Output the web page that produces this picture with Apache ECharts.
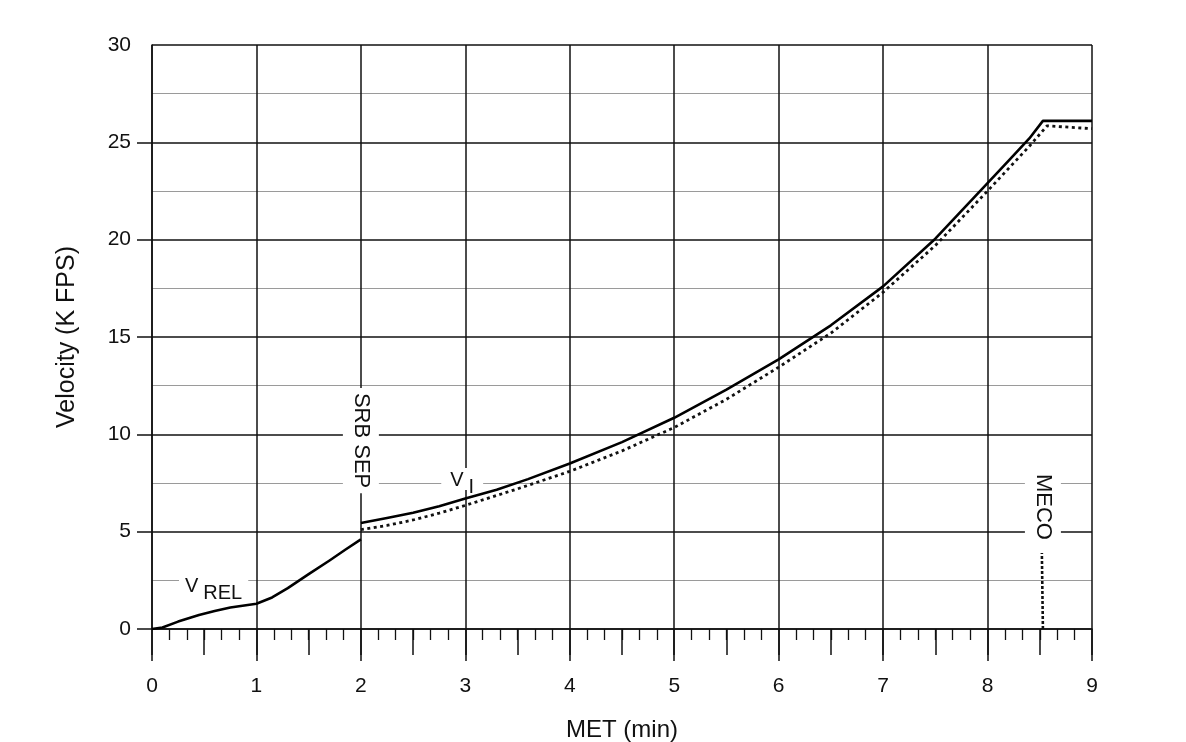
<!DOCTYPE html>
<html lang="en">
<head>
<meta charset="UTF-8">
<title>Velocity vs MET</title>
<script src="https://cdn.jsdelivr.net/npm/echarts@6/dist/echarts.min.js"></script>
<style>
  html, body { margin: 0; padding: 0; background: #fff; }
  #chart { width: 1186px; height: 742px; }
</style>
</head>
<body>
<div id="chart"></div>
<script>
// V_REL before SRB separation (MET min, K FPS)
var metRel = [0, 0.1, 0.25, 0.45, 0.6, 0.75, 0.9, 1.0, 1.15, 1.3, 1.5, 1.7, 1.85, 2.0];
var velRel = [0, 0.08, 0.38, 0.72, 0.92, 1.1, 1.22, 1.3, 1.62, 2.1, 2.82, 3.52, 4.07, 4.6];

// V_I after SRB separation (solid)
var metInertial = [2, 2.25, 2.5, 2.75, 3, 3.3, 3.6, 4, 4.5, 5, 5.5, 6, 6.5, 7, 7.5, 8, 8.2, 8.4, 8.53, 9];
var velInertial = [5.45, 5.7, 5.97, 6.3, 6.7, 7.15, 7.7, 8.5, 9.6, 10.85, 12.3, 13.85, 15.6, 17.6, 20.05, 22.9, 24.05, 25.2, 26.1, 26.1];

// relative velocity after SRB separation (dotted)
var metRelPost = [2, 2.25, 2.5, 2.75, 3, 3.5, 4, 4.5, 5, 5.5, 6, 6.5, 7, 7.5, 8, 8.2, 8.4, 8.57, 9];
var velRelPost = [5.1, 5.32, 5.6, 5.95, 6.35, 7.2, 8.1, 9.15, 10.35, 11.8, 13.45, 15.2, 17.3, 19.7, 22.5, 23.65, 24.8, 25.85, 25.7];

// MECO marker line
var metMeco = [8.53, 8.52];
var velMeco = [0, 3.9];

// annotations
var noteText = ['{v|V}{s|REL}', 'SRB SEP', '{v|V}{s|I}', 'MECO'];
var noteMet = [0.59, 2.0, 2.97, 8.53];
var noteVel = [2.24, 9.68, 7.7, 6.27];
var noteRotate = [0, -90, 0, -90];
var notePad = [[2, 6, 0, 6], [7, 5], [2, 9, 0, 9], [7, 5]];

var FONT = '"Liberation Sans", Arial, Helvetica, sans-serif';
var INK = '#111';

function pairs(xs, ys) {
  return xs.map(function (x, i) { return [x, ys[i]]; });
}

var notes = noteText.map(function (t, i) {
  return {
    value: [noteMet[i], noteVel[i]],
    label: { formatter: t, rotate: noteRotate[i], padding: notePad[i] }
  };
});

var chart = echarts.init(document.getElementById('chart'));

var option = {
  animation: false,
  backgroundColor: '#fff',
  textStyle: { fontFamily: FONT, color: INK },
  grid: [
    { left: 152, right: 94, top: 45, bottom: 113, outerBoundsMode: 'none', containLabel: false },
    // only carries the y ticks 0..25 (no tick at 30)
    { left: 152, right: 94, top: 45 + 584 / 6, bottom: 113, outerBoundsMode: 'none', containLabel: false }
  ],
  xAxis: [
    {
      type: 'value', gridIndex: 0, min: 0, max: 9, interval: 1, position: 'bottom',
      name: 'MET (min)', nameLocation: 'middle', nameGap: 89,
      nameTextStyle: { fontSize: 24, color: INK, fontFamily: FONT },
      axisLine: { show: true, lineStyle: { color: INK, width: 1.5 } },
      axisTick: { show: true, length: 32, lineStyle: { color: INK, width: 1.5 } },
      minorTick: { show: true, splitNumber: 6, length: 11, lineStyle: { color: INK, width: 1.3 } },
      axisLabel: { fontSize: 21, color: INK, margin: 47, fontFamily: FONT },
      splitLine: { show: true, lineStyle: { color: INK, width: 1.5 } }
    },
    {
      type: 'value', gridIndex: 0, min: 0, max: 9, interval: 0.5, position: 'bottom', offset: 0,
      axisLine: { show: false },
      axisTick: { show: true, length: 26, lineStyle: { color: INK, width: 1.5 } },
      axisLabel: { show: false },
      splitLine: { show: false }
    },
    {
      type: 'value', gridIndex: 1, min: 0, max: 9, show: false
    }
  ],
  yAxis: [
    {
      type: 'value', gridIndex: 0, min: 0, max: 30, interval: 5,
      name: 'Velocity (K FPS)', nameLocation: 'middle', nameGap: 72,
      nameTextStyle: { fontSize: 25, color: INK, fontFamily: FONT },
      axisLine: { show: true, lineStyle: { color: INK, width: 1.5 } },
      axisTick: { show: false },
      minorTick: { show: false, splitNumber: 2 },
      axisLabel: { fontSize: 21, color: INK, margin: 21, fontFamily: FONT },
      splitLine: { show: true, lineStyle: { color: INK, width: 1.5 } },
      minorSplitLine: { show: true, lineStyle: { color: '#9a9a9a', width: 1.2 } }
    },
    {
      type: 'value', gridIndex: 1, min: 0, max: 25, interval: 5,
      axisLine: { show: false },
      axisTick: { show: true, length: 15, lineStyle: { color: INK, width: 1.5 } },
      axisLabel: { show: false },
      splitLine: { show: false }
    }
  ],
  series: [
    {
      name: 'V REL', type: 'line', xAxisIndex: 0, yAxisIndex: 0,
      data: pairs(metRel, velRel), smooth: false, showSymbol: false, symbol: 'none',
      lineStyle: { color: '#000', width: 2.6, join: 'round' }, z: 3
    },
    {
      name: 'V I', type: 'line', xAxisIndex: 0, yAxisIndex: 0,
      data: pairs(metInertial, velInertial), smooth: false, showSymbol: false, symbol: 'none',
      lineStyle: { color: '#000', width: 2.6, join: 'round' }, z: 3
    },
    {
      name: 'V REL post', type: 'line', xAxisIndex: 0, yAxisIndex: 0,
      data: pairs(metRelPost, velRelPost), smooth: false, showSymbol: false, symbol: 'none',
      lineStyle: { color: '#111', width: 2.8, type: [3, 3.5] }, z: 3
    },
    {
      name: 'MECO', type: 'line', xAxisIndex: 0, yAxisIndex: 0,
      data: pairs(metMeco, velMeco), showSymbol: false, symbol: 'none',
      lineStyle: { color: '#111', width: 2.6, type: [3, 2] }, z: 3
    },
    {
      name: 'notes', type: 'scatter', xAxisIndex: 0, yAxisIndex: 0,
      symbolSize: 0, itemStyle: { color: '#fff', opacity: 1 }, z: 5, silent: true,
      data: notes,
      label: {
        show: true, position: 'inside', color: INK, fontFamily: FONT, fontSize: 22,
        backgroundColor: '#fff', textBorderWidth: 0,
        rich: {
          v: { fontSize: 20, color: INK, fontFamily: FONT, verticalAlign: 'top', lineHeight: 20 },
          s: { fontSize: 20, color: INK, fontFamily: FONT, verticalAlign: 'top', lineHeight: 20, padding: [7, 0, 0, 5] }
        }
      }
    }
  ]
};

chart.setOption(option);
</script>
</body>
</html>
